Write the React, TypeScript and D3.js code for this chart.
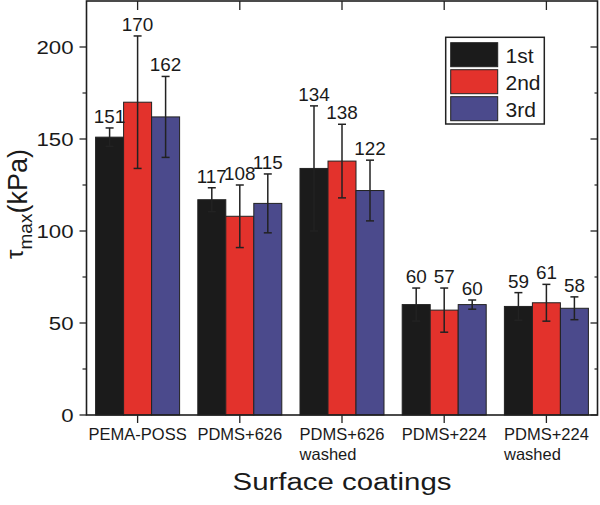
import React, { useEffect, useRef } from "react";
import * as d3 from "d3";

const categories: string[][] = [
  ["PEMA-POSS"],
  ["PDMS+626"],
  ["PDMS+626", "washed"],
  ["PDMS+224"],
  ["PDMS+224", "washed"],
];
const seriesNames = ["1st", "2nd", "3rd"];
const seriesColors = ["#1b1b1b", "#e3322c", "#4b4a8c"];
const firstValues = [151, 117, 134, 60, 59];
const secondValues = [170, 108, 138, 57, 61];
const thirdValues = [162, 115, 122, 60, 58];
const firstErrors = [5, 6.5, 34, 9, 7.5];
const secondErrors = [36, 17, 20, 12, 10];
const thirdErrors = [22, 16, 16.5, 2.5, 6.2];
const yTicks = [0, 50, 100, 150, 200];
const yMinorTicks = [25, 75, 125, 175, 225];
const xTitle = "Surface coatings";

const FONT = "'Liberation Sans', Arial, Helvetica, sans-serif";
const INK = "#1a1a1a";

export default function App() {
  const ref = useRef<SVGSVGElement | null>(null);

  useEffect(() => {
    const svg = d3.select(ref.current);
    svg.selectAll("*").remove();

    const left = 86.5, right = 597.5, top = 1, bottom = 415;
    const x = d3.scaleLinear().domain([0.5, 5.5]).range([left, right]);
    const y = d3.scaleLinear().domain([0, 225]).range([bottom, top]);
    const barW = 28;

    const values = [firstValues, secondValues, thirdValues];
    const errors = [firstErrors, secondErrors, thirdErrors];

    const g = svg.append("g");

    const stretchedText = (tx: number, ty: number, size: number, sx: number, anchor: string, txt: string) =>
      g.append("text")
        .attr("transform", `translate(${tx},${ty}) scale(${sx},1)`)
        .attr("text-anchor", anchor)
        .attr("font-family", FONT)
        .attr("font-size", size)
        .attr("fill", INK)
        .text(txt);

    // bars
    values.forEach((vals, s) => {
      vals.forEach((v, i) => {
        const cx = x(i + 1) + (s - 1) * barW;
        g.append("rect")
          .attr("x", cx - barW / 2)
          .attr("y", y(v))
          .attr("width", barW)
          .attr("height", y(0) - y(v))
          .attr("fill", seriesColors[s])
          .attr("stroke", "#222")
          .attr("stroke-width", 1);
      });
    });

    // error bars + labels
    values.forEach((vals, s) => {
      vals.forEach((v, i) => {
        const cx = x(i + 1) + (s - 1) * barW;
        const e = errors[s][i];
        const yt = y(v + e), yb = y(v - e);
        g.append("line").attr("x1", cx).attr("x2", cx).attr("y1", yt).attr("y2", yb)
          .attr("stroke", "#222").attr("stroke-width", 1.5);
        [yt, yb].forEach((yy) => {
          g.append("line").attr("x1", cx - 4).attr("x2", cx + 4).attr("y1", yy).attr("y2", yy)
            .attr("stroke", "#222").attr("stroke-width", 1.5);
        });
        stretchedText(cx, yt - 5, 17.5, 1.08, "middle", String(v));
      });
    });

    // frame
    g.append("rect")
      .attr("x", left).attr("y", top)
      .attr("width", right - left).attr("height", bottom - top)
      .attr("fill", "none").attr("stroke", "#1e1e1e").attr("stroke-width", 1.6);

    // y ticks
    yTicks.forEach((t) => {
      g.append("line").attr("x1", left - 7).attr("x2", left).attr("y1", y(t)).attr("y2", y(t))
        .attr("stroke", "#222").attr("stroke-width", 1.3);
      g.append("line").attr("x1", right - 7).attr("x2", right).attr("y1", y(t)).attr("y2", y(t))
        .attr("stroke", "#222").attr("stroke-width", 1.3);
      stretchedText(left - 13, y(t) + 6.7, 19, 1.17, "end", String(t));
    });
    yMinorTicks.forEach((t) => {
      if (y(t) < top + 2) return;
      g.append("line").attr("x1", left - 4).attr("x2", left).attr("y1", y(t)).attr("y2", y(t))
        .attr("stroke", "#222").attr("stroke-width", 1.2);
      g.append("line").attr("x1", right - 3).attr("x2", right).attr("y1", y(t)).attr("y2", y(t))
        .attr("stroke", "#222").attr("stroke-width", 1.2);
    });

    // x ticks and labels
    categories.forEach((lines, i) => {
      const cx = x(i + 1);
      g.append("line").attr("x1", cx).attr("x2", cx).attr("y1", bottom).attr("y2", bottom + 8)
        .attr("stroke", "#222").attr("stroke-width", 1.3);
      g.append("line").attr("x1", cx).attr("x2", cx).attr("y1", top).attr("y2", top + 9)
        .attr("stroke", "#222").attr("stroke-width", 1.3);
      const t1 = g.append("text")
        .attr("x", cx).attr("y", 440)
        .attr("text-anchor", "middle")
        .attr("font-family", FONT).attr("font-size", 16.5).attr("fill", INK)
        .text(lines[0]);
      if (lines.length > 1) {
        const w = (t1.node() as SVGTextElement).getComputedTextLength();
        g.append("text")
          .attr("x", cx - w / 2).attr("y", 460)
          .attr("text-anchor", "start")
          .attr("font-family", FONT).attr("font-size", 16.5).attr("fill", INK)
          .text(lines[1]);
      }
    });

    // x title
    stretchedText((left + right) / 2, 490, 24.5, 1.2, "middle", xTitle);

    // y title
    const ytl = g.append("text")
      .attr("transform", `translate(27,204) rotate(-90)`)
      .attr("text-anchor", "middle")
      .attr("font-family", FONT).attr("fill", INK);
    ytl.append("tspan").attr("font-size", 24).attr("dy", -4).text("τ");
    ytl.append("tspan").attr("font-size", 19).attr("dy", 9).text("max");
    ytl.append("tspan").attr("font-size", 27).attr("dy", -5).text("(kPa)");

    // legend
    const lg = g.append("g");
    lg.append("rect").attr("x", 445.7).attr("y", 37.3).attr("width", 98.6).attr("height", 86.7)
      .attr("fill", "white").attr("stroke", "#222").attr("stroke-width", 1.5);
    seriesNames.forEach((name, s) => {
      const sy = 42.7 + s * 27;
      lg.append("rect").attr("x", 450.7).attr("y", sy).attr("width", 47).attr("height", 24)
        .attr("fill", seriesColors[s]).attr("stroke", "#222").attr("stroke-width", 1);
      lg.append("text").attr("x", 505.5).attr("y", sy + 20.5)
        .attr("font-family", FONT).attr("font-size", 21).attr("fill", INK)
        .text(name);
    });
  }, []);

  return (
    <svg
      ref={ref}
      width={600}
      height={505}
      style={{ position: "absolute", left: 0, top: 0, background: "white" }}
    />
  );
}
